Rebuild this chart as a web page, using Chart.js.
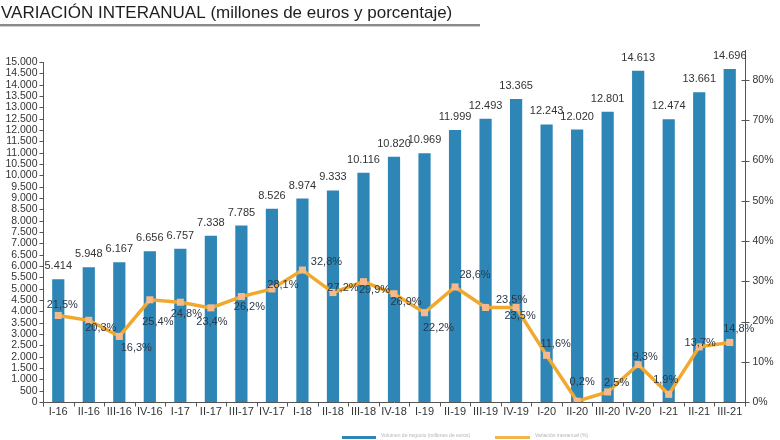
<!DOCTYPE html>
<html><head><meta charset="utf-8">
<script src="https://cdn.jsdelivr.net/npm/chart.js@4"></script>
<style>html,body{margin:0;padding:0;background:#fff;}canvas{display:block;}</style>
</head><body>
<canvas id="c" width="780" height="440"></canvas>
<script>
const chartTitle = 'VARIACIÓN INTERANUAL (millones de euros y porcentaje)';
const categories = ['I-16','II-16','III-16','IV-16','I-17','II-17','III-17','IV-17','I-18','II-18','III-18','IV-18','I-19','II-19','III-19','IV-19','I-20','II-20','III-20','IV-20','I-21','II-21','III-21'];
const volumen = [5414,5948,6167,6656,6757,7338,7785,8526,8974,9333,10116,10820,10969,11999,12493,13365,12243,12020,12801,14613,12474,13661,14696];
const variacion = [21.5,20.3,16.3,25.4,24.8,23.4,26.2,28.1,32.8,27.2,29.9,26.9,22.2,28.6,23.5,23.5,11.6,0.2,2.5,9.3,1.9,13.7,14.8];
const leftAxis = {min:0, max:15000, step:500};
const rightAxis = {min:0, max:84.5, step:10};
const legendLabels = ['Volumen de negocio (millones de euros)','Variación interanual (%)'];

// label placement relative to each point (style only)
const pctDx = [4,12,17,8,6,1,8,11,24,10,11,12,14,20,26,4,9,5,9,7,-3,1,9];
const pctDy = [-11,8,12,22,12,14,10,-4,-8,-5,8,8,15,-12,-7,9,-11,-19,-9,-8,-14,-4,-13];

const FONT = "'Liberation Sans', Arial, sans-serif";
const fmtThousands = v => String(v).replace(/\B(?=(\d{3})+(?!\d))/g, '.');
const fmtPct = v => v.toFixed(1).replace('.', ',') + '%';

const deco = {
  id: 'deco',
  afterDatasetsDraw(chart) {
    const ctx = chart.ctx, xs = chart.scales.x, ys = chart.scales.y, yr = chart.scales.y1, ca = chart.chartArea;
    ctx.save();
    // title
    ctx.fillStyle = '#1e1e1e';
    ctx.font = '17px ' + FONT;
    ctx.textAlign = 'left'; ctx.textBaseline = 'alphabetic';
    ctx.fillText(chartTitle, 1, 18);
    ctx.fillStyle = '#8a8a8a'; ctx.fillRect(0, 24, 480, 2);
    ctx.fillStyle = '#cfcfcf'; ctx.fillRect(0, 26, 480, 1);

    ctx.strokeStyle = '#555'; ctx.lineWidth = 1;
    const L = Math.round(ca.left) + 0.5, R = Math.round(ca.right) + 0.5, B = Math.round(ca.bottom) + 0.5;
    const topL = ys.getPixelForValue(leftAxis.max);
    ctx.beginPath();
    ctx.moveTo(L, topL); ctx.lineTo(L, B);
    ctx.moveTo(L, B); ctx.lineTo(R, B);
    ctx.moveTo(R, 50); ctx.lineTo(R, B);
    ys.ticks.forEach(t => { const py = Math.round(ys.getPixelForValue(t.value)) + 0.5; ctx.moveTo(L - 4, py); ctx.lineTo(L, py); });
    yr.ticks.forEach(t => { if (t.value % rightAxis.step) return; const py = Math.round(yr.getPixelForValue(t.value)) + 0.5; ctx.moveTo(R - 4, py); ctx.lineTo(R + 4, py); });
    const cw = xs.getPixelForValue(1) - xs.getPixelForValue(0);
    for (let i = 0; i <= categories.length; i++) {
      const px = Math.round(xs.getPixelForValue(0) - cw / 2 + i * cw) + 0.5;
      ctx.moveTo(px, B); ctx.lineTo(px, B + 4);
    }
    ctx.stroke();

    // tick labels
    ctx.fillStyle = '#333';
    ctx.font = '10.5px ' + FONT;
    ctx.textAlign = 'right'; ctx.textBaseline = 'middle';
    ys.ticks.forEach(t => ctx.fillText(fmtThousands(t.value), L - 6, ys.getPixelForValue(t.value)));
    ctx.textAlign = 'left';
    yr.ticks.forEach(t => { if (t.value % rightAxis.step) return; ctx.fillText(t.value + '%', R + 7, yr.getPixelForValue(t.value)); });
    ctx.font = '11px ' + FONT;
    ctx.textAlign = 'center';
    categories.forEach((c, i) => ctx.fillText(c, xs.getPixelForValue(i), B + 9));

    // bar labels
    const barMeta = chart.getDatasetMeta(1);
    ctx.fillStyle = '#333';
    ctx.font = '11px ' + FONT;
    ctx.textBaseline = 'alphabetic';
    barMeta.data.forEach((el, i) => ctx.fillText(fmtThousands(volumen[i]), el.x, el.y - 10));

    // pct labels
    const lineMeta = chart.getDatasetMeta(0);
    ctx.fillStyle = '#2c3846';
    ctx.font = '11px ' + FONT;
    ctx.textBaseline = 'middle';
    lineMeta.data.forEach((el, i) => ctx.fillText(fmtPct(variacion[i]), el.x + pctDx[i], el.y + pctDy[i]));

    // legend
    ctx.fillStyle = '#2e86b6'; ctx.fillRect(342, 436, 34, 3);
    ctx.fillStyle = '#f2b648'; ctx.fillRect(495, 436, 35, 3);
    ctx.fillStyle = '#b5b5b5'; ctx.font = '5px ' + FONT; ctx.textAlign = 'left';
    ctx.fillText(legendLabels[0], 381, 436);
    ctx.fillText(legendLabels[1], 535, 436);
    ctx.restore();
  }
};

new Chart(document.getElementById('c'), {
  type: 'bar',
  data: {
    labels: categories,
    datasets: [
      { type: 'line', label: legendLabels[1], data: variacion, yAxisID: 'y1', order: 0,
        borderColor: '#f0a92e', borderWidth: 3.5, tension: 0,
        pointStyle: 'rect', pointRadius: 5, pointBackgroundColor: '#f6b98a', pointBorderColor: '#f6b98a', pointBorderWidth: 0 },
      { type: 'bar', label: legendLabels[0], data: volumen, yAxisID: 'y', order: 1,
        backgroundColor: '#2e86b6', barPercentage: 0.8, categoryPercentage: 0.5 }
    ]
  },
  options: {
    responsive: false, animation: false, devicePixelRatio: 1,
    layout: { padding: { top: 62, left: 0, right: 0, bottom: 0 } },
    plugins: { legend: { display: false }, tooltip: { enabled: false } },
    scales: {
      x: { offset: true, grid: { display: false }, border: { display: false }, ticks: { display: false },
           afterFit: s => { s.height = 38; } },
      y: { position: 'left', min: leftAxis.min, max: leftAxis.max, grid: { display: false }, border: { display: false },
           ticks: { display: false, stepSize: leftAxis.step }, afterFit: s => { s.width = 43; } },
      y1: { position: 'right', min: rightAxis.min, max: rightAxis.max, grid: { display: false }, border: { display: false },
            ticks: { display: false, stepSize: rightAxis.step }, afterFit: s => { s.width = 35; } }
    }
  },
  plugins: [deco]
});
</script>
</body></html>
